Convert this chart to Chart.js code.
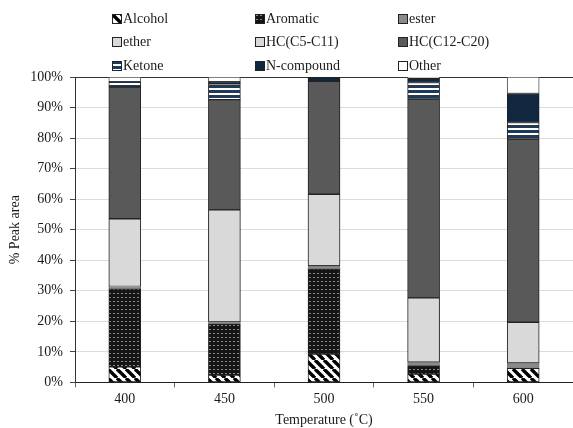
<!DOCTYPE html>
<html>
<head>
<meta charset="utf-8">
<script src="https://cdn.jsdelivr.net/npm/chart.js@4"></script>
<style>
  body { margin: 0; background: #fff; }
  #wrap { position: relative; width: 573px; height: 428px; }
  #legend { position: absolute; left: 0; top: 0; width: 573px; height: 75px;
            font-family: "Liberation Serif", serif; font-size: 14px; color: #1a1a1a; }
  .lg-item { position: absolute; display: flex; align-items: center; height: 16px; white-space: nowrap; }
  .lg-item canvas { margin-right: 1px; }
</style>
</head>
<body>
<div id="wrap">
  <canvas id="chart" width="573" height="428"></canvas>
  <div id="legend"></div>
</div>
<script>
const temps = ['400', '450', '500', '550', '600'];
const seriesNames = ['Alcohol', 'Aromatic', 'ester', 'ether', 'HC(C5-C11)', 'HC(C12-C20)', 'Ketone', 'N-compound', 'Other'];

// % peak area (bottom to top of each stack)
const alcohol   = [5.1, 2.4, 9.3, 2.7, 4.6];
const aromatic  = [25.5, 16.7, 27.8, 2.7, 0];
const ester     = [0.6, 0.8, 1.1, 1.2, 1.8];
const ether     = [0.2, 0, 0, 0, 0];
const hcLight   = [22.2, 36.6, 23.4, 21.1, 13.3];
const hcHeavy   = [43.1, 36.1, 37.0, 65.1, 60.0];
const ketone    = [1.8, 5.2, 0, 5.4, 5.4];
const nCompound = [0, 0.7, 1.4, 1.4, 9.5];
const other     = [1.5, 1.5, 0, 0.4, 5.4];

const yTicks = [0, 10, 20, 30, 40, 50, 60, 70, 80, 90, 100];

const NAVY = '#10273f';

function makePattern(kind) {
  const c = document.createElement('canvas');
  const g = c.getContext('2d');
  if (kind === 'diag') {
    c.width = 9; c.height = 9;
    g.fillStyle = '#fff'; g.fillRect(0, 0, 9, 9);
    g.strokeStyle = '#000'; g.lineWidth = 3.4;
    [-9, 0, 9].forEach(dx => {
      g.beginPath(); g.moveTo(dx, 0); g.lineTo(dx + 9, 9); g.stroke();
    });
  } else if (kind === 'dots') {
    c.width = 4; c.height = 4;
    g.fillStyle = '#151515'; g.fillRect(0, 0, 4, 4);
    g.fillStyle = '#8a8a8a'; g.fillRect(1, 1, 2, 1);
  } else if (kind === 'hstripe') {
    c.width = 4; c.height = 5;
    g.fillStyle = '#fff'; g.fillRect(0, 0, 4, 5);
    g.fillStyle = '#1f3a58'; g.fillRect(0, 0, 4, 3);
  }
  return document.createElement('canvas').getContext('2d').createPattern(c, 'repeat');
}

const fills = [
  makePattern('diag'),
  makePattern('dots'),
  '#8a8a8a',
  '#d9d9d9',
  '#d9d9d9',
  '#595959',
  makePattern('hstripe'),
  NAVY,
  '#ffffff'
];
const borders = ['#222', '#222', '#777', '#444', '#222', '#222', '#222', '#222', '#555'];
const seriesData = [alcohol, aromatic, ester, ether, hcLight, hcHeavy, ketone, nCompound, other];

const datasets = seriesNames.map((name, i) => ({
  label: name,
  data: seriesData[i],
  backgroundColor: fills[i],
  borderColor: borders[i],
  borderWidth: 1,
  borderSkipped: false,
  barThickness: 32
}));

const FONT = { family: '"Liberation Serif", serif', size: 14 };

new Chart(document.getElementById('chart'), {
  type: 'bar',
  data: { labels: temps, datasets },
  options: {
    responsive: false,
    animation: false,
    layout: { padding: { top: 77, right: 0, left: 2, bottom: 0 } },
    plugins: { legend: { display: false }, tooltip: { enabled: false } },
    scales: {
      x: {
        stacked: true,
        grid: { drawOnChartArea: false, tickLength: 5, tickColor: '#666', offset: true },
        border: { color: '#222', width: 1 },
        ticks: { font: FONT, color: '#1a1a1a', padding: 4 },
        title: { display: true, text: 'Temperature (˚C)', font: FONT, color: '#1a1a1a', padding: { top: 0, bottom: -1 } }
      },
      y: {
        stacked: true,
        min: 0, max: 100,
        afterBuildTicks: axis => { axis.ticks = yTicks.map(v => ({ value: v })); },
        grid: {
          color: ctx => (ctx.tick && ctx.tick.value === 100) ? '#333' : '#dcdcdc',
          tickLength: 5, tickColor: '#444'
        },
        border: { color: '#333', width: 1 },
        ticks: { font: FONT, color: '#1a1a1a', padding: 7, callback: v => v + '%' },
        title: { display: true, text: '% Peak area', font: FONT, color: '#1a1a1a', padding: { top: 5, bottom: 0 } },
        afterFit: axis => { axis.width = 73; }
      }
    }
  }
});

// legend in three columns, swatches use the same fills
const colX = [112, 255, 398];
const rowY = [11, 34, 58];
const legend = document.getElementById('legend');
seriesNames.forEach((name, i) => {
  const item = document.createElement('div');
  item.className = 'lg-item';
  item.style.left = colX[i % 3] + 'px';
  item.style.top = rowY[Math.floor(i / 3)] + 'px';
  const sw = document.createElement('canvas');
  sw.width = 10; sw.height = 10;
  const g = sw.getContext('2d');
  g.fillStyle = fills[i]; g.fillRect(0, 0, 10, 10);
  g.strokeStyle = '#222'; g.lineWidth = 1; g.strokeRect(0.5, 0.5, 9, 9);
  item.appendChild(sw);
  const t = document.createElement('span');
  t.textContent = name;
  item.appendChild(t);
  legend.appendChild(item);
});
</script>
</body>
</html>
